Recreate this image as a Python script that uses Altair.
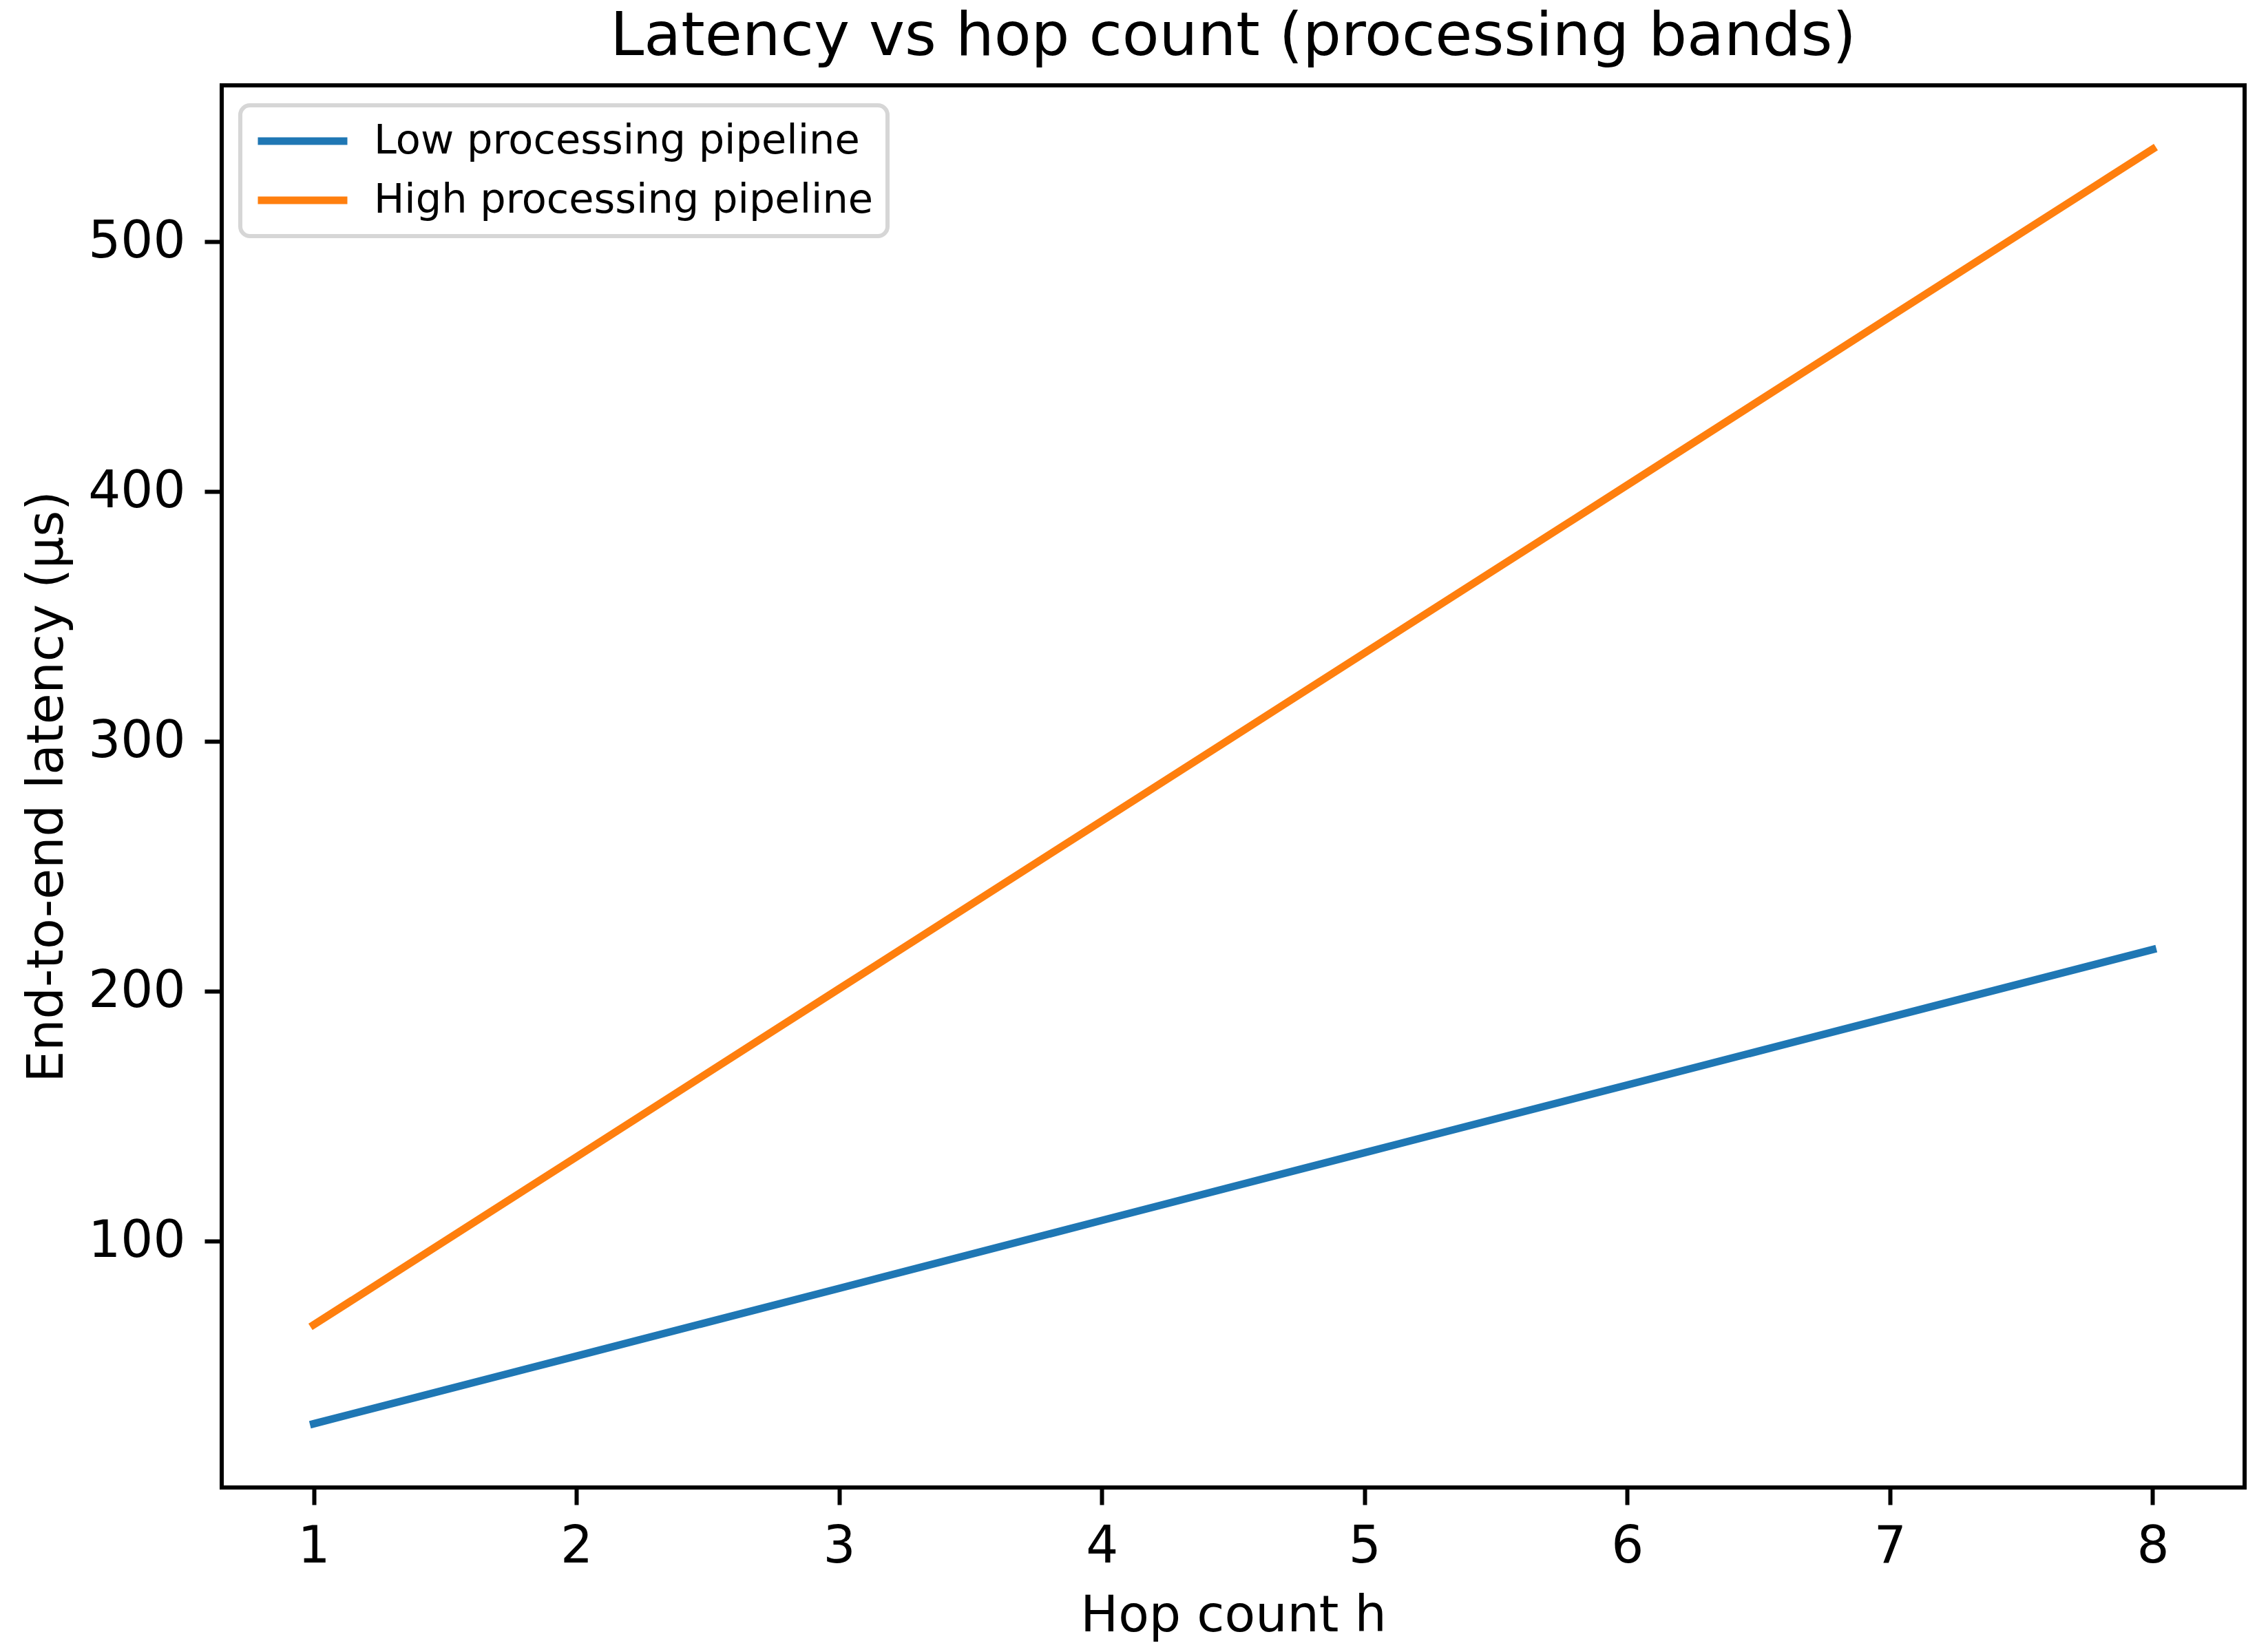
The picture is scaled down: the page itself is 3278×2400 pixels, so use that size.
import altair as alt
import pandas as pd

hops = [1, 2, 3, 4, 5, 6, 7, 8]
low_latency = [26.9, 54.0, 81.1, 108.3, 135.4, 162.5, 189.6, 216.7]
high_latency = [66.5, 133.7, 201.0, 268.2, 335.4, 402.6, 469.9, 537.1]
series_names = ["Low processing pipeline", "High processing pipeline"]
series_colors = ["#1f77b4", "#ff7f0e"]
x_ticks = [1, 2, 3, 4, 5, 6, 7, 8]
y_ticks = [100, 200, 300, 400, 500]

rows = []
for h, v in zip(hops, low_latency):
    rows.append({"h": h, "latency": v, "series": series_names[0]})
for h, v in zip(hops, high_latency):
    rows.append({"h": h, "latency": v, "series": series_names[1]})
df = pd.DataFrame(rows)

FONT = "DejaVu Sans"

chart = (
    alt.Chart(df)
    .mark_line(strokeWidth=11, strokeCap="square")
    .encode(
        x=alt.X(
            "h:Q",
            scale=alt.Scale(domain=[0.65, 8.35], nice=False, zero=False),
            axis=alt.Axis(
                title="Hop count h",
                values=x_ticks,
                format="d",
                grid=False,
                domain=False,
                ticks=True,
                tickSize=25,
                tickWidth=6,
                tickColor="black",
                labelFontSize=74,
                labelFont=FONT,
                labelColor="black",
                labelPadding=25,
                labelFlush=False,
                labelOverlap=False,
                titleFontSize=73,
                titleFont=FONT,
                titleFontWeight="normal",
                titleColor="black",
                titleBaseline="alphabetic",
                titleY=208,
            ),
        ),
        y=alt.Y(
            "latency:Q",
            scale=alt.Scale(domain=[1.4, 562.6], nice=False, zero=False),
            axis=alt.Axis(
                title="End-to-end latency (µs)",
                values=y_ticks,
                format="d",
                grid=False,
                domain=False,
                ticks=True,
                tickSize=25,
                tickWidth=6,
                tickColor="black",
                labelFontSize=74,
                labelFont=FONT,
                labelColor="black",
                labelPadding=28,
                labelFlush=False,
                labelOverlap=False,
                titleFontSize=73,
                titleFont=FONT,
                titleFontWeight="normal",
                titleColor="black",
                titleBaseline="alphabetic",
                titleX=-232,
            ),
        ),
        color=alt.Color(
            "series:N",
            scale=alt.Scale(domain=series_names, range=series_colors),
            sort=series_names,
            legend=alt.Legend(
                title=None,
                orient="none",
                legendX=27,
                legendY=29,
                symbolType="stroke",
                symbolSize=16900,
                symbolStrokeWidth=11,
                clipHeight=64,
                rowPadding=22,
                padding=20,
                labelOffset=33,
                labelFontSize=59,
                labelFont=FONT,
                labelColor="black",
                labelLimit=2000,
                strokeColor="#d6d6d6",
                fillColor="white",
                cornerRadius=14,
            ),
        ),
    )
    .properties(
        width=2938,
        height=2037,
        title=alt.TitleParams(
            "Latency vs hop count (processing bands)",
            fontSize=88,
            font=FONT,
            fontWeight="normal",
            color="black",
            anchor="middle",
            baseline="alphabetic",
            offset=-44,
        ),
        autosize=alt.AutoSizeParams(type="none"),
        padding={"left": 314, "top": 116, "right": 8, "bottom": 225},
    )
    .configure(background="white")
    .configure_view(stroke="black", strokeWidth=6)
    .configure_legend(strokeWidth=6)
)

chart.save("out.html", embed_options={"renderer": "svg", "actions": False})
